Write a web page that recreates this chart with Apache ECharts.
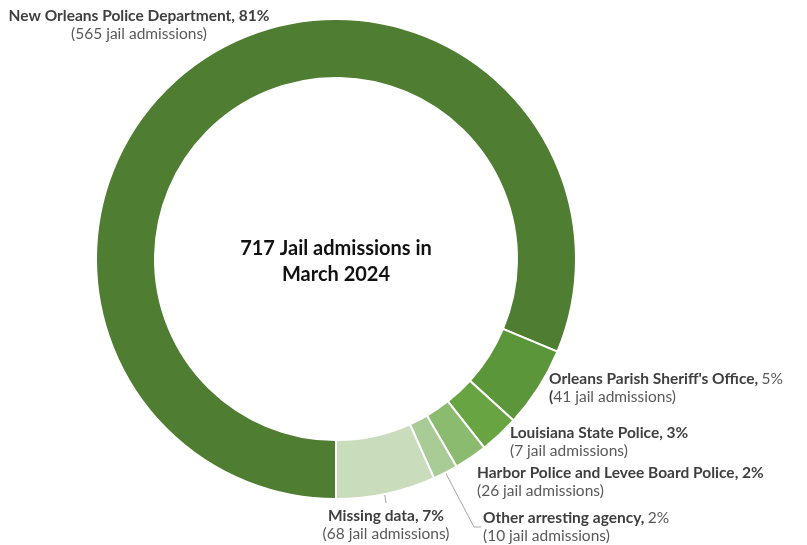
<!DOCTYPE html>
<html>
<head>
<meta charset="utf-8">
<script src="https://cdn.jsdelivr.net/npm/echarts@6/dist/echarts.min.js"></script>
<style>
  html, body { margin: 0; padding: 0; background: #fff; }
  #pie { width: 807px; height: 545px; }
</style>
</head>
<body>
<div id="pie"></div>
<script>
// slices, clockwise from 6 o'clock
const agencies = ['New Orleans Police Department', "Orleans Parish Sheriff's Office", 'Louisiana State Police',
  'Harbor Police and Levee Board Police', 'Other arresting agency', 'Missing data']
const shares = [583, 39, 19, 16, 12, 48]
const pctText = ['81%', '5%', '3%', '2%', '2%', '7%']
const admissionsText = [565, 41, 7, 26, 10, 68]
const colors = ['#4f7d32', '#5c963b', '#68a542', '#8bbb6e', '#a9cb96', '#c9ddbd']

// label anchor per slice: x, y (top of text), align
const labelPos = [
  [139, 7, 'center'],
  [549, 370, 'left'],
  [510, 424, 'left'],
  [477, 464, 'left'],
  [483, 509, 'left'],
  [386, 507, 'center']
]
const linePts = {
  5: [[380, 465], [386, 503]],
  4: [[432, 447], [474, 527], [481, 527]]
}

function labelText(i) {
  const name = agencies[i]
  const line2 = '{r|(' + admissionsText[i] + ' jail admissions)}'
  if (i === 1) return '{b|' + name + ',} {r|' + pctText[i] + '}\n{b|(}{r|' + admissionsText[i] + ' jail admissions)}'
  if (i === 4) return '{b|' + name + ',} {r|' + pctText[i] + '}\n' + line2
  return '{b|' + name + ', ' + pctText[i] + '}\n' + line2
}

const chart = echarts.init(document.getElementById('pie'))

const option = {
  animation: false,
  title: {
    text: '717 Jail admissions in\nMarch 2024',
    left: 331,
    top: 231,
    textAlign: 'center',
    textStyle: {
      fontFamily: 'Lato',
      fontSize: 20,
      fontWeight: 'bold',
      color: '#111',
      lineHeight: 26
    }
  },
  series: [
    {
      type: 'pie',
      center: [336, 259],
      radius: [181, 240],
      startAngle: 270,
      clockwise: true,
      avoidLabelOverlap: false,
      itemStyle: { borderColor: '#fff', borderWidth: 2 },
      label: {
        show: true,
        position: 'outside',
        formatter: p => labelText(p.dataIndex),
        rich: {
          b: { fontFamily: 'Lato', fontSize: 15.5, fontWeight: 'bold', color: '#3f3f3f', lineHeight: 18 },
          r: { fontFamily: 'Lato', fontSize: 15.5, color: '#595959', lineHeight: 18 }
        }
      },
      labelLine: { show: true, lineStyle: { color: '#a6a6a6', width: 1 } },
      labelLayout: function (params) {
        const i = params.dataIndex
        const pos = labelPos[i]
        const out = { x: pos[0], y: pos[1], align: pos[2], verticalAlign: 'top' }
        out.labelLinePoints = linePts[i] || [[0, 0], [0, 0]]
        return out
      },
      data: agencies.map((name, i) => ({
        name: name,
        value: shares[i],
        itemStyle: { color: colors[i] },
        labelLine: { show: !!linePts[i] }
      }))
    }
  ]
}

chart.setOption(option)
</script>
</body>
</html>
